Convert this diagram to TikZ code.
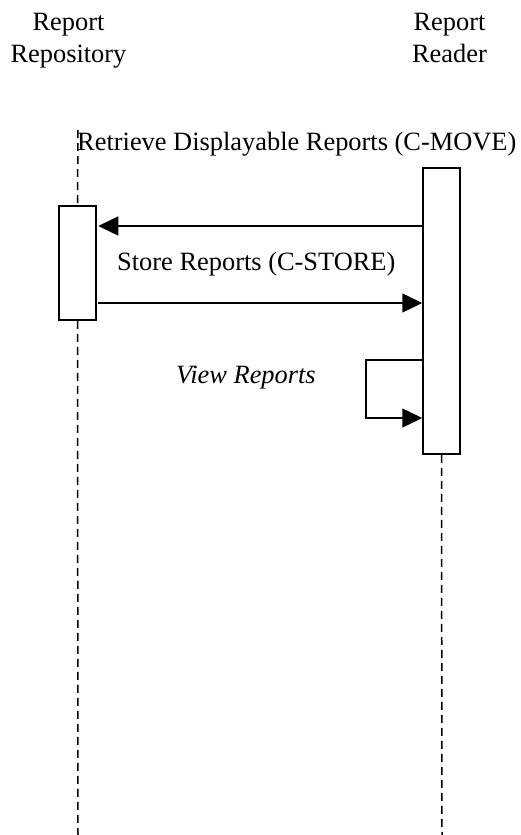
\documentclass[tikz,border=0pt]{standalone}
\usepackage{fontspec}
\setmainfont{Liberation Serif}
\usetikzlibrary{arrows.meta}
\begin{document}
\begin{tikzpicture}[x=1bp,y=-1bp,
  lbl/.style={inner sep=0pt,font=\fontsize{26.5}{32}\selectfont},
  actbox/.style={draw,line width=1.5bp,fill=white,minimum width=37bp,inner sep=0pt},
  lifeline/.style={line width=1.5bp,dash pattern=on 8bp off 5bp},
  msg/.style={line width=1.5bp,-{Triangle[length=20bp,width=19bp]}}]
\useasboundingbox (0,0) rectangle (521,835);
% headers
\node[lbl,align=center,anchor=base] (hrepo) at (68.5,62) {Report\\Repository};
\node[lbl,align=center,anchor=base] (hread) at (449.5,62) {Report\\Reader};
% lifeline ends
\coordinate (ltop) at (78,130);
\coordinate (lbot) at (78,835);
\coordinate (rbot) at (442,835);
% activation boxes
\node[actbox,minimum height=114bp] (lbox) at (77.5,263) {};
\node[actbox,minimum height=286bp] (rbox) at (441.5,311) {};
% lifelines
\draw[lifeline] (ltop) -- (lbox.north);
\draw[lifeline] (lbox.south) -- (lbot);
\draw[lifeline] (rbox.south) -- (rbot);
% messages
\coordinate (m1) at (0,226);
\coordinate (m2) at (0,303);
\coordinate (s1) at (366,360);
\coordinate (s2) at (366,418);
\draw[msg,shorten >=1.5bp] (rbox.west |- m1) -- (lbox.east |- m1);
\draw[msg,shorten <=1.5bp] (lbox.east |- m2) -- (rbox.west |- m2);
\draw[msg] (rbox.west |- s1) -- (s1) -- (s2) -- (rbox.west |- s2);
% labels
\node[lbl,anchor=base west] (tretrieve) at (77,150) {Retrieve Displayable Reports (C-MOVE)};
\node[lbl,anchor=base west] (tstore) at (117,270) {Store Reports (C-STORE)};
\node[lbl,anchor=base west,font=\fontsize{26.5}{32}\selectfont\itshape] (tview) at (176,383) {View Reports};
\end{tikzpicture}
\end{document}
